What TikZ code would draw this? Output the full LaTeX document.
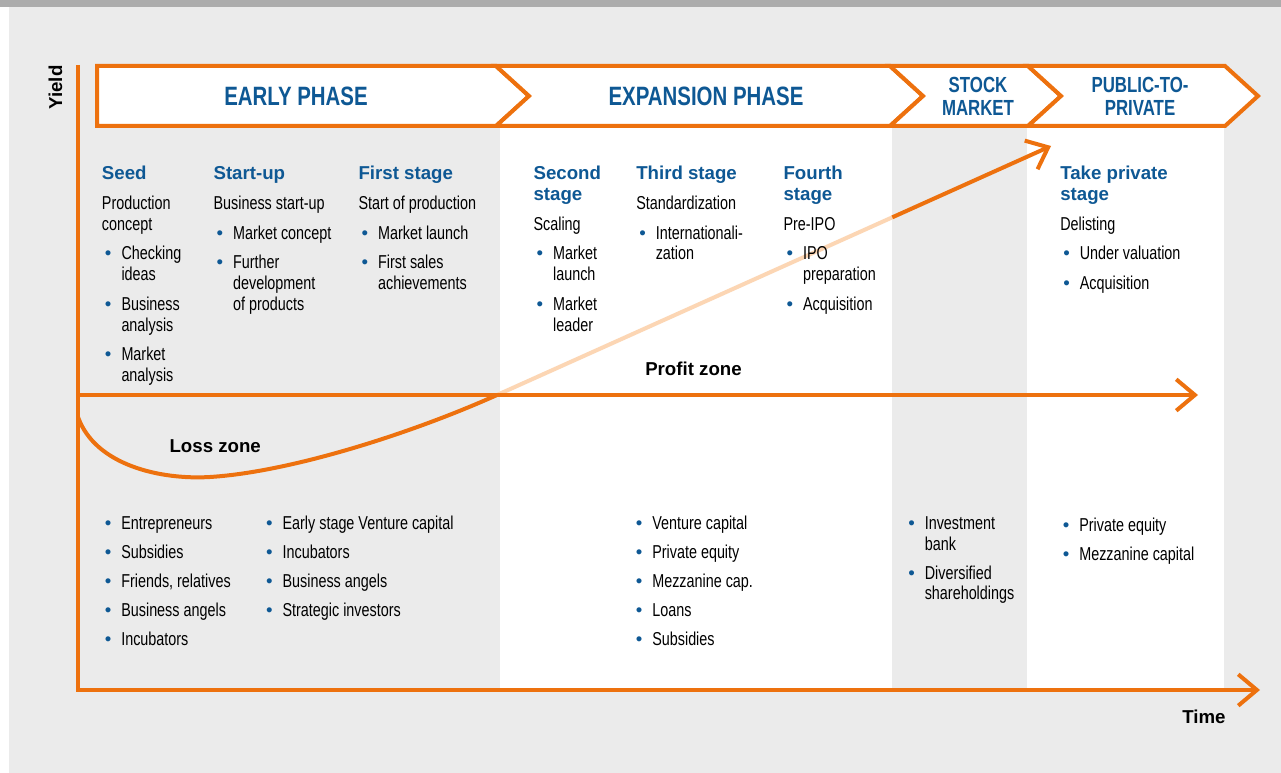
\documentclass[tikz,border=0pt]{standalone}
\usepackage{fontspec}
\setmainfont{Liberation Sans}[FakeStretch=0.77]
\newfontfamily\hdfont{Liberation Sans}
\newfontfamily\dotfont{Liberation Sans}
\usetikzlibrary{calc,arrows.meta}
\definecolor{orng}{RGB}{237,113,14}
\definecolor{peach}{RGB}{252,214,180}
\definecolor{txtblue}{RGB}{14,88,148}
\definecolor{bggray}{RGB}{235,235,235}
\definecolor{bargray}{RGB}{172,172,172}

\newcommand{\hd}[1]{{\hdfont\bfseries\color{txtblue}#1}}
\newcommand{\itm}{\hspace*{2.25pt}\makebox[12.4pt][l]{\dotfont\color{txtblue}\textbullet}}
\newcommand{\cnt}{\hspace*{14.65pt}}
\newcommand{\upgap}{6.6pt}
\newcommand{\logap}{6.1pt}

\begin{document}
\begin{tikzpicture}[x=0.75pt,y=-0.75pt,
  axis/.style={orng,line width=3pt},
  tip/.style={-{Straight Barb[length=14pt,width=23.5pt]}},
  phase/.style={draw=orng,fill=white,line width=3pt},
  ptitle/.style={font=\fontsize{19.9}{23}\selectfont\bfseries,text=txtblue,align=center,inner sep=0pt},
  psmall/.style={font=\fontsize{16.4}{17.25}\selectfont\bfseries,text=txtblue,align=center,inner sep=0pt},
  lst/.style={anchor=base west,inner sep=0pt,font=\fontsize{14}{15.6}\selectfont},
  zone/.style={anchor=base west,inner sep=0pt,font=\hdfont\bfseries\fontsize{14}{16}\selectfont}
  ]
\def\btop{66}
\def\bbot{126}
\def\bmid{96}
\def\chev{33}
\useasboundingbox (0,0) rectangle (1281,773);
% background and columns
\fill[white] (0,0) rectangle (1281,773);
\fill[bggray] (9,7) rectangle (1281,773);
\fill[bargray] (0,0) rectangle (1281,7);
\fill[white] (499.5,\bmid) rectangle (892,690);
\fill[white] (1027,\bmid) rectangle (1224,690);
% phase banner
\draw[phase] (97,\btop) -- (496,\btop) -- (496+\chev,\bmid) -- (496,\bbot) -- (97,\bbot) -- cycle;
\draw[phase] (496,\btop) -- (890,\btop) -- (890+\chev,\bmid) -- (890,\bbot) -- (496,\bbot) -- (496+\chev,\bmid) -- cycle;
\draw[phase] (890,\btop) -- (1028,\btop) -- (1028+\chev,\bmid) -- (1028,\bbot) -- (890,\bbot) -- (890+\chev,\bmid) -- cycle;
\draw[phase] (1028,\btop) -- (1225,\btop) -- (1225+\chev,\bmid) -- (1225,\bbot) -- (1028,\bbot) -- (1028+\chev,\bmid) -- cycle;
\node[ptitle] (early) at (296,\bmid) {EARLY PHASE};
\node[ptitle] (expansion) at (706,\bmid) {EXPANSION PHASE};
\node[psmall] (stock) at (978,\bmid) {STOCK\\MARKET};
\node[psmall] (public) at (1140,\bmid) {PUBLIC-TO-\\PRIVATE};
% axes and yield curve
\coordinate (O) at (78,690);
\coordinate (ytop) at (78,65);
\coordinate (xend) at (1260,690);
\coordinate (p0) at (78,395);
\coordinate (pend) at (1198,395);
\coordinate (c0) at (78,417);
\coordinate (cmin) at (210,477);
\coordinate (brk) at (497,395);
\coordinate (ctip) at (1051,146);
\coordinate (mid) at ($(brk)!0.7135!(ctip)$);
\draw[axis] (c0) .. controls (95,465) and (160,480) .. (cmin) .. controls (290,472) and (410,434) .. (brk);
\draw[peach,line width=3pt] (brk) -- (mid);
\draw[axis,tip] (mid) -- (ctip);
\draw[axis,tip] (p0) -- (pend);
\draw[axis,tip] (ytop) -- (O) -- (xend);
\node[rotate=90,anchor=base,inner sep=0pt,font=\hdfont\bfseries\fontsize{14}{16}\selectfont] (yield) at (62,87.5) {Yield};
\node[zone] (time) at (1182,723.3) {Time};
\node[zone] (profit) at (645,376) {Profit zone};
\node[zone] (loss) at (169.3,452.3) {Loss zone};
% stages
\node[lst] (seed) at (101.7,180) {\begin{tabular}[t]{@{}l@{}}
\hd{Seed}\\[\upgap]
Production\\
concept\\[\upgap]
\itm Checking\\
\cnt ideas\\[\upgap]
\itm Business\\
\cnt analysis\\[\upgap]
\itm Market\\
\cnt analysis
\end{tabular}};
\node[lst] (startup) at (213.3,180) {\begin{tabular}[t]{@{}l@{}}
\hd{Start-up}\\[\upgap]
Business start-up\\[\upgap]
\itm Market concept\\[\upgap]
\itm Further\\
\cnt development\\
\cnt of products
\end{tabular}};
\node[lst] (first) at (358.3,180) {\begin{tabular}[t]{@{}l@{}}
\hd{First stage}\\[\upgap]
Start of production\\[\upgap]
\itm Market launch\\[\upgap]
\itm First sales\\
\cnt achievements
\end{tabular}};
\node[lst] (second) at (533.3,180) {\begin{tabular}[t]{@{}l@{}}
\hd{Second}\\
\hd{stage}\\[\upgap]
Scaling\\[\upgap]
\itm Market\\
\cnt launch\\[\upgap]
\itm Market\\
\cnt leader
\end{tabular}};
\node[lst] (third) at (636,180) {\begin{tabular}[t]{@{}l@{}}
\hd{Third stage}\\[\upgap]
Standardization\\[\upgap]
\itm Internationali-\\
\cnt zation
\end{tabular}};
\node[lst] (fourth) at (783.3,180) {\begin{tabular}[t]{@{}l@{}}
\hd{Fourth}\\
\hd{stage}\\[\upgap]
Pre-IPO\\[\upgap]
\itm IPO\\
\cnt preparation\\[\upgap]
\itm Acquisition
\end{tabular}};
\node[lst] (takeprivate) at (1060,180) {\begin{tabular}[t]{@{}l@{}}
\hd{Take private}\\
\hd{stage}\\[\upgap]
Delisting\\[\upgap]
\itm Under valuation\\[\upgap]
\itm Acquisition
\end{tabular}};
% financing sources
\node[lst] (finseed) at (101.5,529.3) {\begin{tabular}[t]{@{}l@{}}
\itm Entrepreneurs\\[\logap]
\itm Subsidies\\[\logap]
\itm Friends, relatives\\[\logap]
\itm Business angels\\[\logap]
\itm Incubators
\end{tabular}};
\node[lst] (finearly) at (262.8,529.3) {\begin{tabular}[t]{@{}l@{}}
\itm Early stage Venture capital\\[\logap]
\itm Incubators\\[\logap]
\itm Business angels\\[\logap]
\itm Strategic investors
\end{tabular}};
\node[lst] (finexp) at (632.5,529.3) {\begin{tabular}[t]{@{}l@{}}
\itm Venture capital\\[\logap]
\itm Private equity\\[\logap]
\itm Mezzanine cap.\\[\logap]
\itm Loans\\[\logap]
\itm Subsidies
\end{tabular}};
\node[lst] (finstock) at (905,529.3) {\begin{tabular}[t]{@{}l@{}}
\itm Investment\\
\cnt bank\\[\logap]
\itm Diversified\\
\cnt shareholdings
\end{tabular}};
\node[lst] (finpublic) at (1059.5,531.7) {\begin{tabular}[t]{@{}l@{}}
\itm Private equity\\[\logap]
\itm Mezzanine capital
\end{tabular}};
\end{tikzpicture}
\end{document}
